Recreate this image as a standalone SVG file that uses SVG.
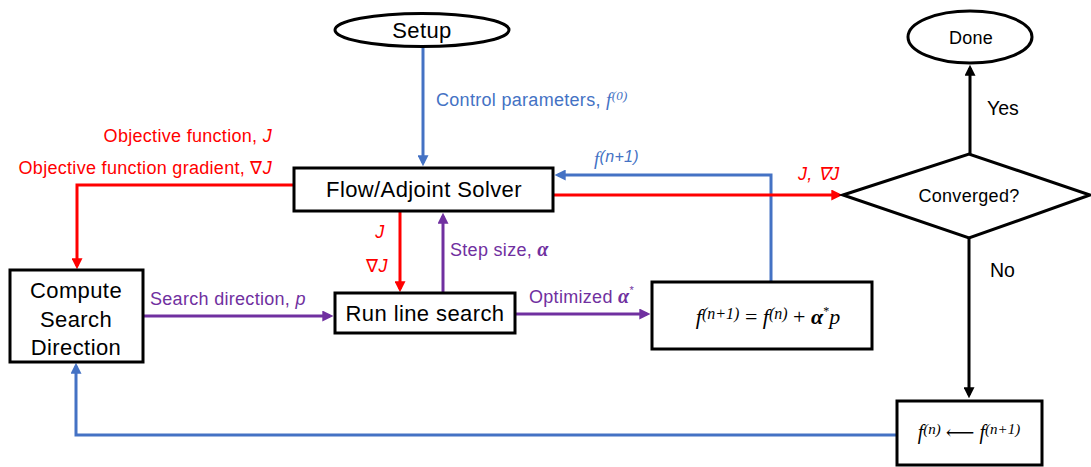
<svg xmlns="http://www.w3.org/2000/svg" width="1091" height="467" viewBox="0 0 1091 467">
  <style>
    .node { fill: #fff; stroke: #000; stroke-width: 3; }
    .lbl { font-family: "Liberation Sans", Arial, sans-serif; fill: #000; }
    .big { font-size: 22px; letter-spacing: 0.4px; }
    .mid { font-size: 18px; letter-spacing: 0.3px; }
    .red { fill: #FF0000; }
    .blue { fill: #4472C4; }
    .purple { fill: #7030A0; }
    .math { font-family: "Liberation Serif", "DejaVu Serif", serif; font-style: italic; }
    .c-red { stroke: #FF0000; stroke-width: 3; fill: none; }
    .c-blue { stroke: #4472C4; stroke-width: 3; fill: none; }
    .c-purple { stroke: #7030A0; stroke-width: 3; fill: none; }
    .c-black { stroke: #000; stroke-width: 3; fill: none; }
  </style>
  <defs>
    <marker id="ah-red" viewBox="0 0 10 10" refX="7" refY="5" markerWidth="11" markerHeight="11" markerUnits="userSpaceOnUse" orient="auto">
      <path d="M0,0 L10,5 L0,10 z" fill="#FF0000"/>
    </marker>
    <marker id="ah-blue" viewBox="0 0 10 10" refX="7" refY="5" markerWidth="11" markerHeight="11" markerUnits="userSpaceOnUse" orient="auto">
      <path d="M0,0 L10,5 L0,10 z" fill="#4472C4"/>
    </marker>
    <marker id="ah-purple" viewBox="0 0 10 10" refX="7" refY="5" markerWidth="11" markerHeight="11" markerUnits="userSpaceOnUse" orient="auto">
      <path d="M0,0 L10,5 L0,10 z" fill="#7030A0"/>
    </marker>
    <marker id="ah-black" viewBox="0 0 10 10" refX="7" refY="5" markerWidth="11" markerHeight="11" markerUnits="userSpaceOnUse" orient="auto">
      <path d="M0,0 L10,5 L0,10 z" fill="#000"/>
    </marker>
  </defs>

  <!-- connectors -->
  <g id="connectors">
    <!-- Setup -> solver -->
    <path class="c-blue" d="M423,47 V163" marker-end="url(#ah-blue)"/>
    <!-- solver -> compute search direction (objective / gradient) -->
    <path class="c-red" d="M294,185 H77 V266" marker-end="url(#ah-red)"/>
    <!-- solver -> line search -->
    <path class="c-red" d="M400,212 V289" marker-end="url(#ah-red)"/>
    <!-- line search -> solver (step size) -->
    <path class="c-purple" d="M443,293 V216" marker-end="url(#ah-purple)"/>
    <!-- search direction -> line search -->
    <path class="c-purple" d="M143,316 H330" marker-end="url(#ah-purple)"/>
    <!-- line search -> update -->
    <path class="c-purple" d="M515,314 H647" marker-end="url(#ah-purple)"/>
    <!-- update -> solver -->
    <path class="c-blue" d="M771,282 V175 H558" marker-end="url(#ah-blue)"/>
    <!-- solver -> convergence check -->
    <path class="c-red" d="M553,195 H839" marker-end="url(#ah-red)"/>
    <!-- converged: yes -->
    <path class="c-black" d="M970,154 V68" marker-end="url(#ah-black)"/>
    <!-- converged: no -->
    <path class="c-black" d="M969,238 V395" marker-end="url(#ah-black)"/>
    <!-- shift iterate -> compute search direction -->
    <path class="c-blue" d="M897,435 H76 V366" marker-end="url(#ah-blue)"/>

    <!-- connector labels -->
    <text class="lbl mid blue" x="436" y="106">Control parameters, <tspan class="math" font-size="19">f</tspan><tspan class="math" font-size="13" dy="-6">(0)</tspan></text>
    <text class="lbl mid red" x="272" y="142" text-anchor="end">Objective function, <tspan font-style="italic">J</tspan></text>
    <text class="lbl mid red" x="272" y="174" text-anchor="end">Objective function gradient, ∇<tspan font-style="italic">J</tspan></text>
    <text class="lbl mid red" x="380" y="238" text-anchor="middle" font-style="italic">J</text>
    <text class="lbl mid red" x="377" y="272" text-anchor="middle">∇<tspan font-style="italic">J</tspan></text>
    <text class="lbl mid purple" x="450" y="256">Step size, <tspan class="math" font-weight="bold" font-size="20">α</tspan></text>
    <text class="lbl mid purple" x="150" y="305">Search direction, <tspan font-style="italic">p</tspan></text>
    <text class="lbl mid purple" x="529" y="303">Optimized <tspan class="math" font-weight="bold" font-size="20">α</tspan><tspan font-size="11" dy="-9">*</tspan></text>
    <text class="lbl mid blue" x="594" y="165"><tspan class="math" font-size="19">f</tspan><tspan font-style="italic" font-size="16" dy="-3">(n+1)</tspan></text>
    <text class="lbl mid red" x="798" y="180" font-style="italic">J, ∇J</text>
    <text class="lbl" font-size="19.5" x="987" y="115">Yes</text>
    <text class="lbl" font-size="19.5" x="990" y="277">No</text>
  </g>

  <!-- nodes -->
  <g id="setup">
    <ellipse class="node" cx="422" cy="30" rx="87" ry="16.5"/>
    <text class="lbl big" x="422" y="38" text-anchor="middle">Setup</text>
  </g>

  <g id="solver">
    <rect class="node" x="294" y="168" width="259" height="43"/>
    <text class="lbl big" x="424" y="197" text-anchor="middle">Flow/Adjoint Solver</text>
  </g>

  <g id="search-direction">
    <rect class="node" x="10" y="270" width="133" height="92"/>
    <text class="lbl big" x="76" y="298" text-anchor="middle">Compute</text>
    <text class="lbl big" x="76" y="327" text-anchor="middle">Search</text>
    <text class="lbl big" x="76" y="355" text-anchor="middle">Direction</text>
  </g>

  <g id="line-search">
    <rect class="node" x="335" y="293" width="180" height="40"/>
    <text class="lbl big" x="425" y="321" text-anchor="middle">Run line search</text>
  </g>

  <g id="update">
    <rect class="node" x="652" y="282" width="220" height="67"/>
    <text class="math" font-size="22" x="768" y="324" text-anchor="middle" fill="#000">f<tspan font-size="16" dy="-5">(n+1)</tspan><tspan font-style="normal" dy="5"> = </tspan>f<tspan font-size="16" dy="-5">(n)</tspan><tspan font-style="normal" dy="5"> + </tspan><tspan font-weight="bold">α</tspan><tspan font-size="12" font-style="normal" dy="-9">*</tspan><tspan dy="9">p</tspan></text>
  </g>

  <g id="converged">
    <polygon class="node" points="843,195 969,154 1090,195 969,238"/>
    <text class="lbl mid" x="969" y="202" text-anchor="middle">Converged?</text>
  </g>

  <g id="done">
    <ellipse class="node" cx="970" cy="37" rx="62" ry="26"/>
    <text class="lbl mid" x="971" y="44" text-anchor="middle">Done</text>
  </g>

  <g id="shift">
    <rect class="node" x="897" y="401" width="145" height="64"/>
    <text class="math" font-size="20" x="969" y="439" text-anchor="middle" fill="#000">f<tspan font-size="15" dy="-5">(n)</tspan><tspan font-style="normal" dy="5"> ⟵ </tspan>f<tspan font-size="15" dy="-5">(n+1)</tspan></text>
  </g>
</svg>
